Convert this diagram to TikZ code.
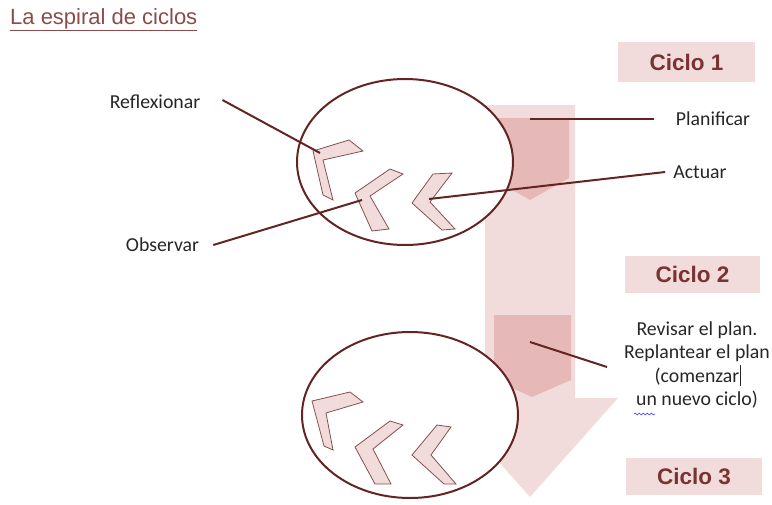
\documentclass[tikz,border=0pt]{standalone}
\usepackage{fontspec}
\setmainfont{Carlito}
\newfontfamily\arialf{Liberation Sans}
\usetikzlibrary{decorations.pathmorphing}
\definecolor{lpink}{HTML}{F2DCDB}
\definecolor{mpink}{HTML}{E6B9B8}
\definecolor{dred}{HTML}{632523}
\definecolor{tred}{HTML}{7A3333}
\definecolor{titlered}{HTML}{8E4A4A}
\definecolor{lblgray}{HTML}{262626}
\begin{document}
\begin{tikzpicture}[x=1pt,y=-1pt,
  conn/.style={draw=dred,line width=2pt},
  ell/.style={draw=dred,line width=2pt,fill=white},
  chevst/.style={fill=lpink,draw=dred!80!white,line width=0.8pt,line join=miter},
  lbl/.style={text=lblgray,font=\fontsize{19.8}{23.5}\selectfont,inner sep=1pt},
  ciclo/.style={fill=lpink,text=tred,font=\arialf\bfseries\fontsize{22.5}{26}\selectfont,inner sep=0pt}
]
\useasboundingbox (0,0) rectangle (772,504);

% title
\node[anchor=base west,inner sep=0pt,text=titlered,font=\arialf\fontsize{22}{26}\selectfont] (title) at (10,24) {\underline{La espiral de ciclos}};

% big light arrow
\fill[lpink] (485,105) -- (575,105) -- (575,398) -- (618,398) -- (530,497) -- (442,398) -- (485,398) -- cycle;
% inner darker arrows
\fill[mpink] (491,118) -- (569,118) -- (569,178) -- (530,200) -- (491,178) -- cycle;
\fill[mpink] (494,315) -- (571,315) -- (571,380) -- (532,397) -- (494,380) -- cycle;

% cycle boxes
\node[ciclo,minimum width=137pt,minimum height=40pt] (c1) at (686.5,62) {Ciclo 1};
\node[ciclo,minimum width=135pt,minimum height=37pt] (c2) at (692.5,274.5) {Ciclo 2};
\node[ciclo,minimum width=136pt,minimum height=37pt] (c3) at (694,476.5) {Ciclo 3};

% labels
\node[lbl] (refl) at (155,102) {Reflexionar};
\node[lbl] (obs) at (162.5,245) {Observar};
\node[lbl] (plan) at (713,119) {Planificar};
\node[lbl] (act) at (700,172) {Actuar};
\node[lbl,align=center] (rev) at (697,365) {Revisar el plan.\\Replantear el plan\\(comenzar\rlap{\hspace{0.5pt}\rule[-0.2em]{0.8pt}{1.05em}}\\un nuevo ciclo)};
\draw[blue!70!white,line width=0.7pt,decorate,decoration={snake,amplitude=0.9pt,segment length=4pt}] (634,414) -- (655,414);

% connector end points
\coordinate (pPlan) at (530,119);
\coordinate (pRev) at (530,342);
\coordinate (revEnd) at (607,367);

% Planificar and Revisar connectors
\draw[conn] (plan.west) ++(-21,0) -- (pPlan);
\draw[conn] (revEnd) -- (pRev);

% ellipses
\draw[ell] (405,162) ellipse [x radius=108, y radius=83];
\draw[ell] (410,415) ellipse [x radius=108, y radius=83];

% chevrons (ellipse 1)
\filldraw[chevst] (313,151) -- (349,140) -- (363,151) -- (323,160) -- (333,200) -- (323,195) -- cycle;
\filldraw[chevst] (355,193) -- (390,169) -- (403,174) -- (370,196) -- (389,229) -- (372,231) -- cycle;
\filldraw[chevst] (412,203) -- (433,174) -- (452,173) -- (430,202) -- (455,229) -- (442,230) -- cycle;
% chevrons (ellipse 2)
\filldraw[chevst] (312,401) -- (350,392) -- (363,402) -- (326,413) -- (333,450) -- (324,446) -- cycle;
\filldraw[chevst] (355,447) -- (390,421) -- (403,425) -- (373,449) -- (391,484) -- (375,484) -- cycle;
\filldraw[chevst] (412,455) -- (437,425) -- (451,427) -- (431,455) -- (456,484) -- (444,484) -- cycle;

\coordinate (pA) at (320,153);
\coordinate (pB) at (362,200);
\coordinate (pC) at (429,199);

\draw[conn] (refl.east) ++(21,-2) -- (pA);
\draw[conn] (obs.east) ++(13,0) -- (pB);
\draw[conn] (act.west) ++(-7,0) -- (pC);
\end{tikzpicture}
\end{document}
